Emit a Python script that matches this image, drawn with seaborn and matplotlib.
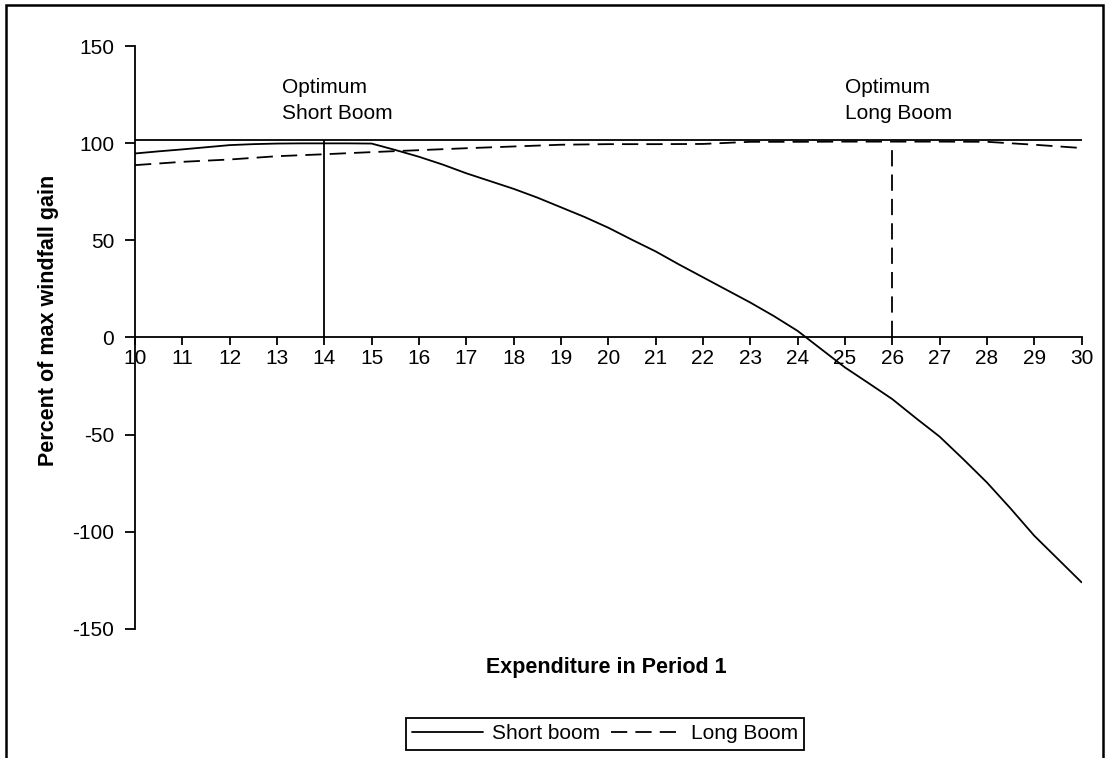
import matplotlib
matplotlib.use("Agg")
import matplotlib.pyplot as plt
import seaborn as sns
from matplotlib.patches import Rectangle

# ======================
# DATA
# ======================

short_x = [10, 10.5, 11, 11.5, 12, 12.5, 13, 13.5, 14, 14.5, 15, 15.5, 16, 16.5,
           17, 17.5, 18, 18.5, 19, 19.5, 20, 20.5, 21, 21.5, 22, 22.5, 23, 23.5,
           24, 24.5, 25, 25.5, 26, 26.5, 27, 27.5, 28, 28.5, 29, 29.5, 30]
short_y = [94.7, 95.8, 96.8, 97.9, 99.0, 99.5, 99.8, 99.9, 99.9, 99.9, 99.8, 96.5,
           93.0, 89.0, 84.5, 80.5, 76.5, 72.0, 67.0, 62.0, 56.5, 50.3, 44.3, 37.5,
           31.0, 24.5, 18.0, 11.0, 3.4, -6.0, -15.4, -23.5, -31.7, -41.5, -51.0,
           -62.6, -74.6, -88.0, -102.0, -114.0, -126.0]

long_x = [10, 11, 12, 13, 14, 15, 16, 17, 18, 19, 20, 21, 22, 23, 24, 25, 26,
          27, 28, 29, 30]
long_y = [88.7, 90.4, 91.6, 93.3, 94.3, 95.4, 96.4, 97.4, 98.3, 99.2, 99.5, 99.5,
          99.6, 100.7, 100.7, 100.8, 100.8, 100.8, 100.7, 99.2, 97.5]

x_ticks = list(range(10, 31))
y_ticks = [-150, -100, -50, 0, 50, 100, 150]

max_level = 101.6      # horizontal reference line
opt_short = 14
opt_long = 26
opt_long_top = 100.0

# ======================
# STYLE
# ======================

sns.set_style("white")
plt.rcParams["font.family"] = ["Liberation Sans", "DejaVu Sans"]
plt.rcParams["axes.unicode_minus"] = False
plt.rcParams["text.color"] = "black"
plt.rcParams["axes.labelcolor"] = "black"

fs = 15
fs_bold = 15.5

fig = plt.figure(figsize=(11.05, 7.58), dpi=100)
ax = fig.add_axes([0.1222, 0.1702, 0.8566, 0.7691])

# ======================
# LINES
# ======================

sns.lineplot(x=short_x, y=short_y, ax=ax, color="black", linewidth=1.3,
             label="Short boom")
sns.lineplot(x=long_x, y=long_y, ax=ax, color="black", linewidth=1.3,
             linestyle=(0, (9, 4.5)), label="Long Boom")

ax.hlines(max_level, 10, 30, color="black", linewidth=1.3)
ax.vlines(opt_short, 0, max_level, color="black", linewidth=1.3)
ax.vlines(opt_long, 0, opt_long_top, color="black", linewidth=1.3,
          linestyles=[(0, (9, 4.5))])

ax.text(13.1, 133.5, "Optimum\nShort Boom", ha="left", va="top", fontsize=fs,
        linespacing=1.45, color="black")
ax.text(25.0, 133.5, "Optimum\nLong Boom", ha="left", va="top", fontsize=fs,
        linespacing=1.45, color="black")

# ======================
# AXES
# ======================

ax.set_xlim(10, 30)
ax.set_ylim(-150, 150)
ax.set_xticks(x_ticks)
ax.set_yticks(y_ticks)

ax.spines["bottom"].set_position(("data", 0))
ax.spines["top"].set_visible(False)
ax.spines["right"].set_visible(False)
for s in ["left", "bottom"]:
    ax.spines[s].set_color("black")
    ax.spines[s].set_linewidth(1.3)

ax.tick_params(axis="y", direction="out", length=7, width=1.3, colors="black",
               labelsize=fs, pad=8, left=True)
ax.tick_params(axis="x", direction="out", length=6, width=1.3, colors="black",
               labelsize=fs, pad=2, bottom=True)

ax.set_ylabel("Percent of max windfall gain", fontsize=fs_bold,
              fontweight="bold", color="black")
ax.yaxis.set_label_coords(-0.080, 0.53)
ax.set_xlabel("")

fig.text(0.549, 0.119, "Expenditure in Period 1", ha="center", va="center",
         fontsize=fs_bold, fontweight="bold", color="black")

# legend at the bottom
handles, labels = ax.get_legend_handles_labels()
ax.get_legend().remove()
leg = fig.legend(handles, labels, loc="center", bbox_to_anchor=(0.5475, 0.0317),
                 ncol=2, fontsize=fs, frameon=True, fancybox=False,
                 edgecolor="black", framealpha=1, handlelength=3.4,
                 handletextpad=0.45, columnspacing=0.5, borderpad=0.3,
                 labelcolor="black")
leg.get_frame().set_linewidth(1.3)

# outer chart border (bottom edge is cut off in the original)
fig.patches.append(Rectangle((6 / 1105, -0.05), (1103 - 6) / 1105, 1.05 - 5 / 758,
                             transform=fig.transFigure, fill=False,
                             edgecolor="black", linewidth=1.8))

plt.savefig("out.png", dpi=100)
